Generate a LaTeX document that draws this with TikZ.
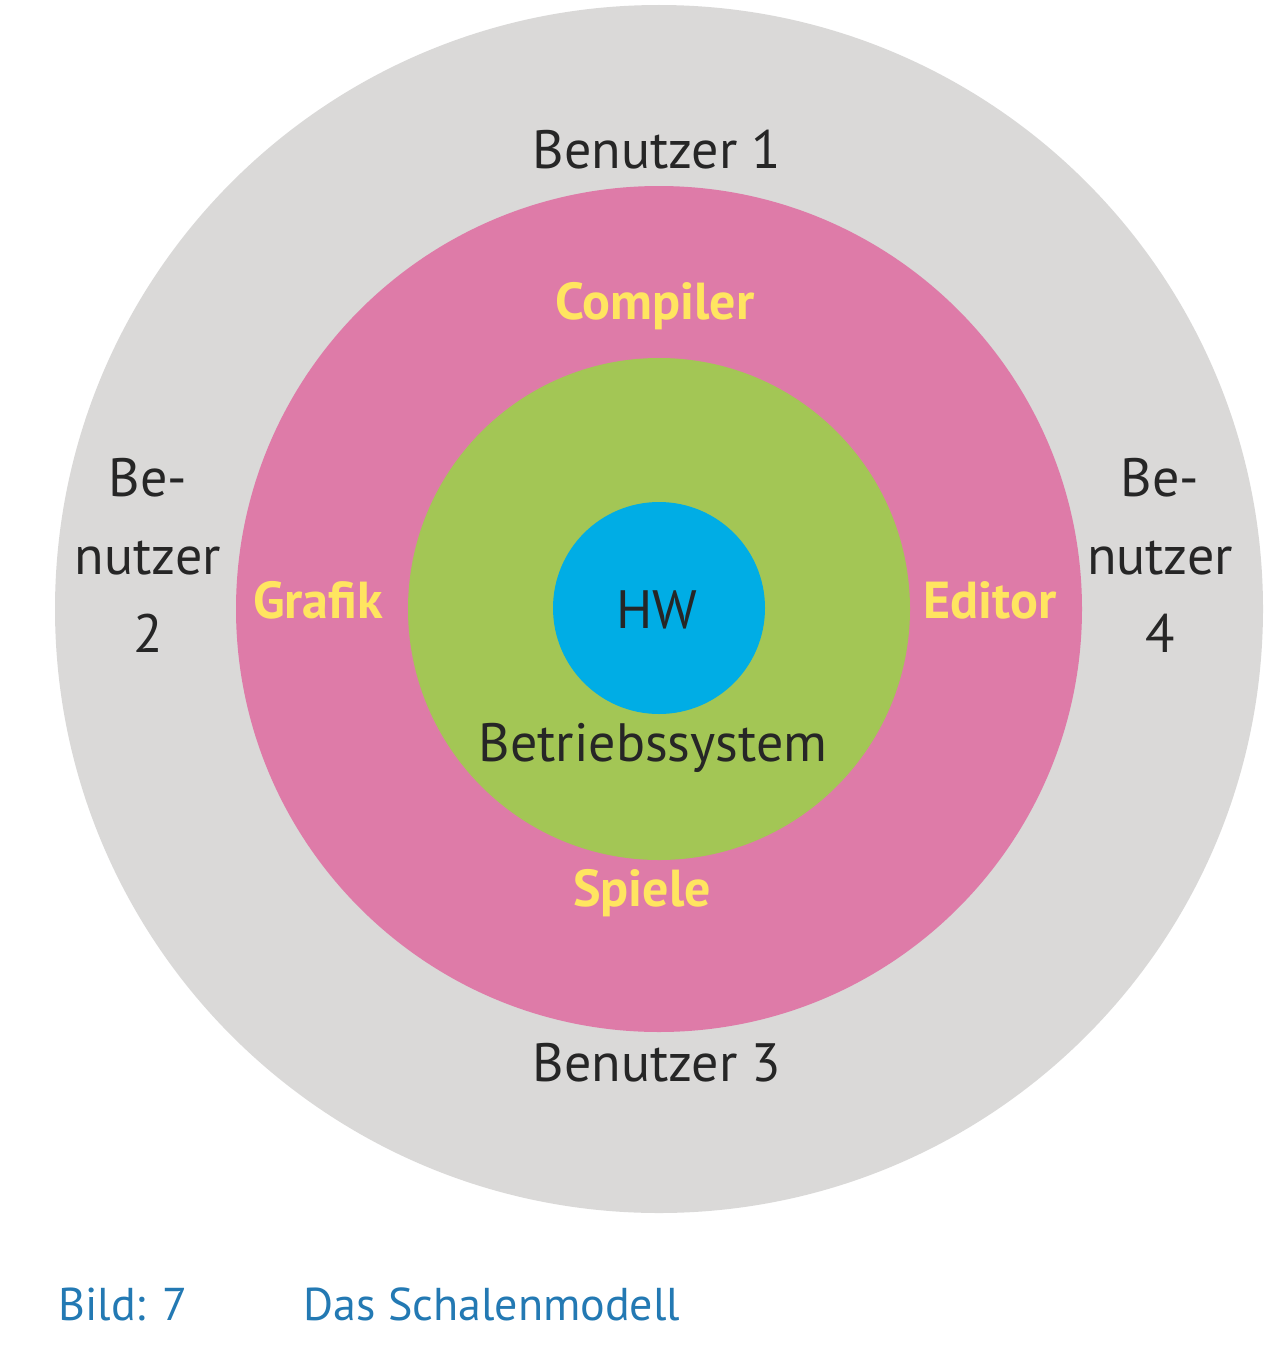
\documentclass[tikz,border=0pt]{standalone}
\usepackage{fontspec}
\setmainfont{PT Sans}
\definecolor{cgray}{HTML}{DAD9D8}
\definecolor{cpink}{HTML}{DE7BA8}
\definecolor{cgreen}{HTML}{A3C655}
\definecolor{cblue}{HTML}{00ADE5}
\definecolor{cyel}{HTML}{FFE560}
\definecolor{ccap}{HTML}{2379B3}
\begin{document}
\begin{tikzpicture}[x=1pt,y=-1pt,
  ring/.style={circle,inner sep=0pt},
  usr/.style={font=\fontsize{54}{78}\selectfont,text=black!85,align=center},
  app/.style={font=\fontsize{52}{60}\selectfont\bfseries,text=cyel},
  captext/.style={font=\fontsize{46}{55}\selectfont,text=ccap,anchor=base west}]
\useasboundingbox (0,0) rectangle (1279,1354);
\node[ring,fill=cgray,minimum size=1208pt] (outer) at (659,609) {};
\node[ring,fill=cpink,minimum size=846pt] (pink) at (659,609) {};
\node[ring,fill=cgreen,minimum size=502pt] (green) at (659,609) {};
\node[ring,fill=cblue,minimum size=212pt] (hw) at (659,608) {};
\node[usr] (hwt) at (657,610) {HW};
\node[usr] (bs) at (653,748) {Betriebssystem};
\node[usr] (b1) at (657,150) {Benutzer 1};
\node[usr] (b3) at (657,1063) {Benutzer 3};
\node[usr] (b2) at (148,555) {Be-\\nutzer\\2};
\node[usr] (b4) at (1160,555) {Be-\\nutzer\\4};
\node[app] (comp) at (655,306) {Compiler};
\node[app] (graf) at (318,600) {Grafik};
\node[app] (edit) at (990,600) {Editor};
\node[app] (spiel) at (642,893) {Spiele};
\node[captext] (bild) at (55,1320) {Bild: 7};
\node[captext] (titel) at (300,1320) {Das Schalenmodell};
\end{tikzpicture}
\end{document}
